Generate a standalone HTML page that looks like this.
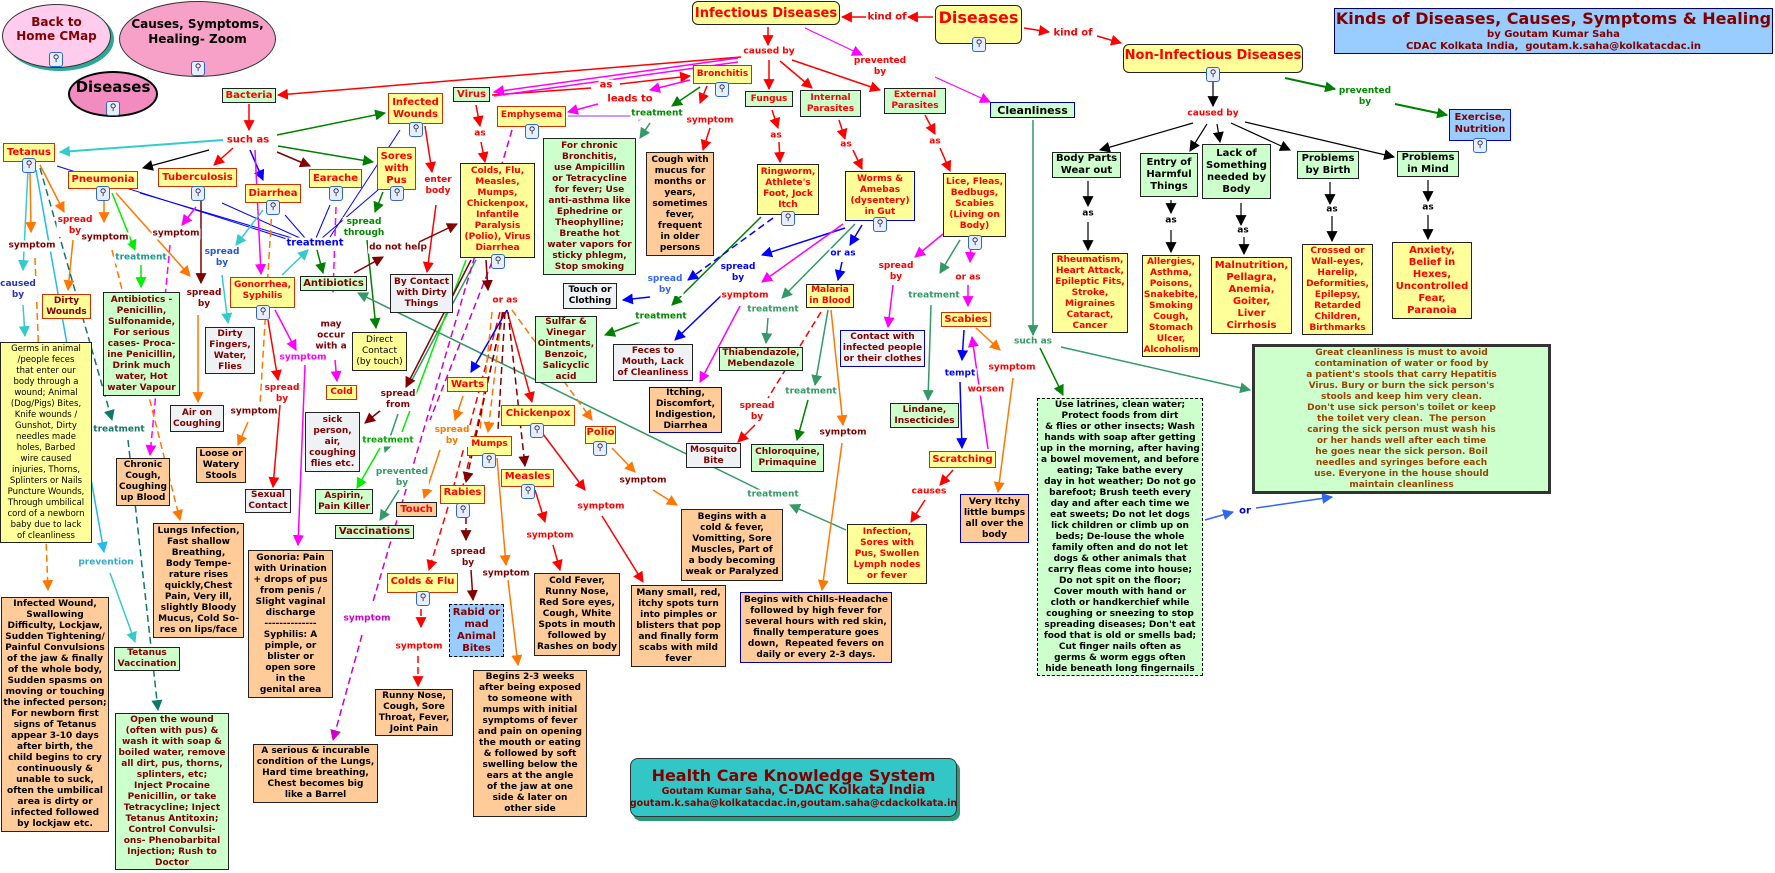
<!DOCTYPE html>
<html><head><meta charset="utf-8">
<style>
*{box-sizing:border-box;margin:0;padding:0}
body{width:1775px;height:873px;background:#fff;position:relative;overflow:hidden;font-family:"DejaVu Sans","Liberation Sans",sans-serif;font-weight:bold}
.n{position:absolute;display:flex;align-items:center;justify-content:center;text-align:center;font-size:9px;line-height:11px;border:1px solid #222;white-space:nowrap}
.g{background:#ccffcc}
.y{background:#ffff99}
.yr{background:#ffff99;border-color:#d03000}
.o{background:#ffcc99}
.gr{background:#eef2f4}
.rd{color:#ff0000}
.dr{color:#800000}
.bk{color:#000}
.t{font-size:10px;line-height:12px}
.e{position:absolute;border-radius:50%;display:flex;align-items:center;justify-content:center;text-align:center;padding-bottom:14px}
.l{position:absolute;transform:translate(-50%,-50%);background:#fff;font-size:9px;line-height:11px;text-align:center;white-space:nowrap;padding:0 1px}
.ic{position:absolute;width:14px;height:15px;border:1px solid #3366cc;border-radius:3px;background:#e6eeff;font-size:9px;line-height:13px;text-align:center;color:#223;font-weight:normal}
svg{position:absolute;left:0;top:0}
</style></head><body>
<svg width="1775" height="873">
<defs>
<marker id="r" viewBox="0 0 10 10" refX="9" refY="5" markerUnits="userSpaceOnUse" markerWidth="11" markerHeight="11" orient="auto"><path d="M0,0L10,5L0,10z" fill="#f00"/></marker>
<marker id="k" viewBox="0 0 10 10" refX="9" refY="5" markerUnits="userSpaceOnUse" markerWidth="11" markerHeight="11" orient="auto"><path d="M0,0L10,5L0,10z" fill="#000"/></marker>
<marker id="g" viewBox="0 0 10 10" refX="9" refY="5" markerUnits="userSpaceOnUse" markerWidth="11" markerHeight="11" orient="auto"><path d="M0,0L10,5L0,10z" fill="#008000"/></marker>
<marker id="sg" viewBox="0 0 10 10" refX="9" refY="5" markerUnits="userSpaceOnUse" markerWidth="11" markerHeight="11" orient="auto"><path d="M0,0L10,5L0,10z" fill="#339966"/></marker>
<marker id="lg" viewBox="0 0 10 10" refX="9" refY="5" markerUnits="userSpaceOnUse" markerWidth="11" markerHeight="11" orient="auto"><path d="M0,0L10,5L0,10z" fill="#00ee00"/></marker>
<marker id="b" viewBox="0 0 10 10" refX="9" refY="5" markerUnits="userSpaceOnUse" markerWidth="11" markerHeight="11" orient="auto"><path d="M0,0L10,5L0,10z" fill="#00f"/></marker>
<marker id="m" viewBox="0 0 10 10" refX="9" refY="5" markerUnits="userSpaceOnUse" markerWidth="11" markerHeight="11" orient="auto"><path d="M0,0L10,5L0,10z" fill="#f0f"/></marker>
<marker id="p" viewBox="0 0 10 10" refX="9" refY="5" markerUnits="userSpaceOnUse" markerWidth="11" markerHeight="11" orient="auto"><path d="M0,0L10,5L0,10z" fill="#c0c"/></marker>
<marker id="o" viewBox="0 0 10 10" refX="9" refY="5" markerUnits="userSpaceOnUse" markerWidth="11" markerHeight="11" orient="auto"><path d="M0,0L10,5L0,10z" fill="#f70"/></marker>
<marker id="br" viewBox="0 0 10 10" refX="9" refY="5" markerUnits="userSpaceOnUse" markerWidth="11" markerHeight="11" orient="auto"><path d="M0,0L10,5L0,10z" fill="#800000"/></marker>
<marker id="c" viewBox="0 0 10 10" refX="9" refY="5" markerUnits="userSpaceOnUse" markerWidth="11" markerHeight="11" orient="auto"><path d="M0,0L10,5L0,10z" fill="#33cccc"/></marker>
<marker id="lb" viewBox="0 0 10 10" refX="9" refY="5" markerUnits="userSpaceOnUse" markerWidth="11" markerHeight="11" orient="auto"><path d="M0,0L10,5L0,10z" fill="#22bbee"/></marker>
<marker id="lav" viewBox="0 0 10 10" refX="9" refY="5" markerUnits="userSpaceOnUse" markerWidth="11" markerHeight="11" orient="auto"><path d="M0,0L10,5L0,10z" fill="#cc99ff"/></marker>
<marker id="tb" viewBox="0 0 10 10" refX="9" refY="5" markerUnits="userSpaceOnUse" markerWidth="11" markerHeight="11" orient="auto"><path d="M0,0L10,5L0,10z" fill="#117766"/></marker>
<marker id="bl" viewBox="0 0 10 10" refX="9" refY="5" markerUnits="userSpaceOnUse" markerWidth="11" markerHeight="11" orient="auto"><path d="M0,0L10,5L0,10z" fill="#3366ee"/></marker>
</defs>
<g fill="none" stroke-width="1.5">
<!-- red -->
<g stroke="#f00">
<path d="M933,17L908,17" marker-end="url(#r)"/><path d="M866,17L842,17" marker-end="url(#r)"/>
<path d="M1024,28L1049,32" marker-end="url(#r)"/><path d="M1097,36L1121,43" marker-end="url(#r)"/>
<path d="M768,27L768,45" marker-end="url(#r)"/>
<path d="M741,57L278,95" marker-end="url(#r)"/>
<path d="M769,60L769,89" marker-end="url(#r)"/>
<path d="M780,61L812,88" marker-end="url(#r)"/>
<path d="M792,60L880,90" marker-end="url(#r)"/>
<path d="M492,95L591,88"/><path d="M620,84L690,76" marker-end="url(#r)"/>
<path d="M707,86L700,103" marker-end="url(#r)"/><path d="M710,128L703,150" marker-end="url(#r)"/>
<path d="M249,104L249,130" marker-end="url(#r)"/>
<path d="M233,148L214,165" marker-end="url(#r)"/>
<path d="M476,105L480,126" marker-end="url(#r)"/><path d="M481,142L485,162" marker-end="url(#r)"/>
<path d="M425,126L432,172" marker-end="url(#r)"/><path d="M436,205L427,272" marker-end="url(#r)"/>
<path d="M772,110L778,128" marker-end="url(#r)"/><path d="M779,142L780,162" marker-end="url(#r)"/>
<path d="M839,120L845,139" marker-end="url(#r)"/><path d="M853,150L862,169" marker-end="url(#r)"/>
<path d="M925,115L935,134" marker-end="url(#r)"/><path d="M940,148L950,171" marker-end="url(#r)"/>
<path d="M268,320L278,380" marker-end="url(#r)"/><path d="M280,405L273,487" marker-end="url(#r)"/>
<path d="M421,598L421,627" marker-end="url(#r)" stroke-dasharray="7,4"/><path d="M418,656L418,686" marker-end="url(#r)" stroke-dasharray="7,4"/>
<path d="M448,507L429,570" marker-end="url(#r)" stroke-dasharray="7,4"/>
<path d="M500,312L450,500" stroke-dasharray="7,4"/><path d="M504,312L462,490" stroke-dasharray="7,4"/>
<path d="M507,310L532,402" marker-end="url(#r)"/>
<path d="M540,430L585,490" marker-end="url(#r)"/><path d="M602,516L643,582" marker-end="url(#r)"/>
<path d="M535,490L545,522" marker-end="url(#r)"/><path d="M553,545L560,570" marker-end="url(#r)"/>
<path d="M821,312L768,398" stroke-dasharray="7,4"/><path d="M755,425L738,442" marker-end="url(#r)"/>
<path d="M953,470L940,485" marker-end="url(#r)"/><path d="M925,500L911,522" marker-end="url(#r)"/>
</g>
<!-- black -->
<g stroke="#000" stroke-width="1.2">
<path d="M1213,82L1213,106" marker-end="url(#k)"/>
<path d="M1193,123L1100,150" marker-end="url(#k)"/>
<path d="M1207,124L1190,151" marker-end="url(#k)"/>
<path d="M1217,124L1220,142" marker-end="url(#k)"/>
<path d="M1231,123L1290,150" marker-end="url(#k)"/>
<path d="M1245,122L1394,157" marker-end="url(#k)"/>
<path d="M1088,181L1088,206" marker-end="url(#k)"/><path d="M1088,222L1088,250" marker-end="url(#k)"/>
<path d="M1171,200L1171,213" marker-end="url(#k)"/><path d="M1171,230L1171,252" marker-end="url(#k)"/>
<path d="M1241,203L1241,225" marker-end="url(#k)"/><path d="M1244,237L1244,254" marker-end="url(#k)"/>
<path d="M1330,182L1330,204" marker-end="url(#k)"/><path d="M1332,216L1332,241" marker-end="url(#k)"/>
<path d="M1428,180L1428,201" marker-end="url(#k)"/><path d="M1428,215L1428,239" marker-end="url(#k)"/>
<path d="M209,150L143,168" marker-end="url(#k)"/>
</g>
<!-- greens -->
<g stroke="#008000">
<path d="M1285,78L1335,89" marker-end="url(#g)" stroke-width="2"/><path d="M1395,104L1447,115" marker-end="url(#g)" stroke-width="2"/>
<path d="M1040,348L1063,395" marker-end="url(#g)"/>
<path d="M277,135L385,113" marker-end="url(#g)"/>
<path d="M278,146L373,162" marker-end="url(#g)"/>
<path d="M700,87L672,106" marker-end="url(#g)"/>
<path d="M383,192L375,212" marker-end="url(#g)"/><path d="M367,240L376,328" marker-end="url(#g)"/>
<path d="M317,250L323,273" marker-end="url(#g)"/>
<path d="M761,217L672,305" marker-end="url(#g)"/><path d="M640,322L605,335" marker-end="url(#g)"/>
<path d="M808,400L797,440" marker-end="url(#g)"/>
</g>
<g stroke="#339966">
<path d="M1033,120L1033,335" marker-end="url(#sg)"/>
<path d="M1061,347L1250,390" marker-end="url(#sg)"/>
<path d="M650,123L640,138" marker-end="url(#sg)"/>
<path d="M855,224L782,298" marker-end="url(#sg)"/><path d="M768,318L766,343" marker-end="url(#sg)"/>
<path d="M828,310L815,385" marker-end="url(#sg)"/>
<path d="M960,240L940,273" marker-end="url(#sg)"/><path d="M931,305L928,400" marker-end="url(#sg)"/>
<path d="M846,530L790,505" marker-end="url(#sg)"/><path d="M760,490L358,293" marker-end="url(#sg)"/>
<path d="M476,260L412,380"/><path d="M398,414L385,452" marker-end="url(#sg)"/><path d="M399,490L380,520" marker-end="url(#sg)"/>
</g>
<g stroke="#00ee00">
<path d="M466,260L402,432"/><path d="M380,448L357,488" marker-end="url(#lg)"/>
<path d="M112,193L135,250" marker-end="url(#lg)"/><path d="M141,265L141,287" marker-end="url(#lg)"/>
</g>
<!-- blue -->
<g stroke="#00f">
<path d="M57,166L290,240" stroke-width="1"/><path d="M140,193L292,238" stroke-width="1"/>
<path d="M222,203L300,238" stroke-width="1"/><path d="M285,215L305,238" stroke-width="1"/>
<path d="M330,205L316,238" stroke-width="1"/><path d="M378,190L322,238" stroke-width="1"/>
<path d="M400,130L330,237" stroke-width="1"/><path d="M250,150L263,180" marker-end="url(#b)"/>
<path d="M773,218L688,280" stroke-dasharray="7,4" marker-end="url(#b)"/><path d="M650,297L623,300" marker-end="url(#b)"/>
<path d="M845,228L762,255" marker-end="url(#b)"/><path d="M725,292L675,340" marker-end="url(#b)"/>
<path d="M862,225L850,245" marker-end="url(#b)"/><path d="M842,262L838,280" marker-end="url(#b)"/>
<path d="M507,310L471,372" marker-end="url(#b)"/>
<path d="M964,330L962,360" marker-end="url(#b)"/><path d="M960,382L962,448" marker-end="url(#b)"/>
</g>
<g stroke="#3366ee"><path d="M1205,520L1233,512" marker-end="url(#bl)"/><path d="M1256,508L1332,497" marker-end="url(#bl)"/></g>
<!-- magenta -->
<g stroke="#f0f">
<path d="M690,80L650,90" marker-end="url(#m)"/><path d="M598,104L568,112" marker-end="url(#m)"/>
<path d="M738,58L494,92" marker-end="url(#m)"/><path d="M738,62L494,96"/>
<path d="M805,28L862,55" stroke-width="1.2" marker-end="url(#m)"/><path d="M935,77L990,102" stroke-width="1.2" marker-end="url(#m)"/>
<path d="M843,224L762,282" marker-end="url(#m)"/><path d="M740,306L700,382" marker-end="url(#m)"/>
<path d="M943,234L915,257" marker-end="url(#m)"/><path d="M893,285L888,327" marker-end="url(#m)"/>
<path d="M971,241L970,262" marker-end="url(#m)"/><path d="M968,285L968,306" marker-end="url(#m)"/>
<path d="M988,449L972,337" marker-end="url(#m)"/>
<path d="M255,150L261,274" marker-end="url(#m)"/>
<path d="M275,310L296,350" marker-end="url(#m)"/><path d="M305,365L298,545" marker-end="url(#m)"/>
<path d="M336,207L333,292" stroke-dasharray="7,4" marker-end="url(#m)"/><path d="M335,360L337,381" marker-end="url(#m)"/>
<path d="M196,207L182,225" marker-end="url(#m)"/><path d="M170,245L150,455" stroke-dasharray="7,4" marker-end="url(#m)"/>
</g>
<g stroke="#c0c"><path d="M512,130L372,605" stroke-dasharray="7,4"/><path d="M362,635L333,740" stroke-dasharray="7,4" marker-end="url(#p)"/>
<path d="M492,262L430,420" stroke-dasharray="7,4"/></g>
<path d="M568,116L648,116" stroke="#cc99ff" stroke-width="2" marker-end="url(#lav)"/>
<!-- orange -->
<g stroke="#f70">
<path d="M40,165L64,212" marker-end="url(#o)"/><path d="M73,240L68,290" marker-end="url(#o)"/>
<path d="M30,170L31,232" marker-end="url(#o)"/><path d="M35,258L48,590" stroke-dasharray="7,4" marker-end="url(#o)"/>
<path d="M104,193L104,222" marker-end="url(#o)"/><path d="M112,250L180,520" stroke-dasharray="7,4" marker-end="url(#o)"/>
<path d="M116,193L190,276" marker-end="url(#o)"/><path d="M198,315L198,402" marker-end="url(#o)"/>
<path d="M272,208L260,405" stroke-dasharray="7,4"/><path d="M248,422L238,445" marker-end="url(#o)"/>
<path d="M502,312L488,432" stroke-dasharray="7,4" marker-end="url(#o)"/>
<path d="M497,458L506,565" marker-end="url(#o)"/><path d="M508,580L518,665" marker-end="url(#o)"/>
<path d="M463,396L455,420" marker-end="url(#o)"/><path d="M440,450L424,498" marker-end="url(#o)"/>
<path d="M612,448L635,472" marker-end="url(#o)"/><path d="M653,490L677,505" marker-end="url(#o)"/>
<path d="M831,310L843,425" marker-end="url(#o)"/><path d="M842,443L822,590" marker-end="url(#o)"/>
<path d="M976,328L1000,350" marker-end="url(#o)"/><path d="M1013,378L998,492" marker-end="url(#o)"/>
<path d="M512,310L592,420" stroke-dasharray="7,4" marker-end="url(#o)"/>
<path d="M492,312L480,430" stroke-dasharray="7,4"/>
</g>
<!-- brown -->
<g stroke="#800000">
<path d="M277,152L310,166" marker-end="url(#br)"/>
<path d="M201,200L201,283" marker-end="url(#br)"/>
<path d="M486,260L488,290" marker-end="url(#br)"/>
<path d="M505,312L498,430" stroke-dasharray="7,4"/><path d="M508,312L525,466" stroke-dasharray="7,4" marker-end="url(#br)"/>
<path d="M503,312L466,482" stroke-dasharray="7,4" marker-end="url(#br)"/>
<path d="M354,273L383,257" marker-end="url(#br)"/><path d="M419,242L457,224" marker-end="url(#br)"/>
<path d="M471,260L406,387" marker-end="url(#br)"/><path d="M381,410L365,423" marker-end="url(#br)"/>
<path d="M466,508L466,540" stroke-dasharray="6,4" marker-end="url(#br)"/><path d="M471,570L473,600" marker-end="url(#br)"/>
</g>
<!-- cyan -->
<g stroke="#33cccc">
<path d="M223,140L60,152" marker-end="url(#c)" stroke-width="2"/>
<path d="M263,210L236,245" marker-end="url(#c)"/><path d="M222,275L228,323" marker-end="url(#c)"/>
<path d="M282,275L308,250" marker-end="url(#c)"/>
<path d="M28,170L23,270" marker-end="url(#c)"/><path d="M23,305L25,336" marker-end="url(#c)"/>
<path d="M110,573L135,642" marker-end="url(#c)"/>
</g>
<path d="M36,170L104,552" stroke="#22bbee" stroke-width="1.5" marker-end="url(#lb)"/>
<g stroke="#117766" stroke-dasharray="7,4"><path d="M40,168L112,420" marker-end="url(#tb)"/><path d="M128,440L158,710" marker-end="url(#tb)"/></g>
</g>
</svg>

<!-- ellipses -->
<div class="e" style="left:2px;top:4px;width:109px;height:64px;background:#ffccee;border:1px solid #333;box-shadow:3px 3px 0 #2aa89a;color:#800000;font-size:12px;line-height:14px">Back to<br>Home CMap</div>
<div class="e" style="left:119px;top:1px;width:157px;height:76px;background:#f7a1c9;border:1px solid #333;color:#000;font-size:12px;line-height:15px">Causes, Symptoms,<br>Healing- Zoom</div>
<div class="e" style="left:68px;top:71px;width:90px;height:46px;background:#f28cc0;border:2px solid #000;color:#000;font-size:15px">Diseases</div>

<!-- top -->
<div class="n y rd" style="left:692px;top:1px;width:148px;height:24px;border-radius:6px;font-size:13px">Infectious Diseases</div>
<div class="n y rd" style="left:935px;top:5px;width:87px;height:39px;border-radius:6px;font-size:16px;align-items:flex-start;padding-top:6px">Diseases</div>
<div class="n y rd" style="left:1123px;top:44px;width:180px;height:29px;border-radius:6px;font-size:13px;align-items:flex-start;padding-top:5px">Non-Infectious Diseases</div>
<div class="n" style="left:1334px;top:8px;width:439px;height:46px;background:#99ccff;border-color:#000066;color:#800000;flex-direction:column;font-size:10px;line-height:12px"><span style="font-size:16px;line-height:20px">Kinds of Diseases, Causes, Symptoms &amp; Healing</span>by Goutam Kumar Saha<br>CDAC Kolkata India,&nbsp; goutam.k.saha@kolkatacdac.in</div>

<!-- left cluster -->
<div class="n g rd t" style="left:222px;top:88px;width:54px;height:15px">Bacteria</div>
<div class="n yr rd t" style="left:3px;top:143px;width:52px;height:19px">Tetanus</div>
<div class="n yr rd t" style="left:68px;top:171px;width:70px;height:18px">Pneumonia</div>
<div class="n yr rd t" style="left:158px;top:168px;width:79px;height:19px">Tuberculosis</div>
<div class="n yr rd t" style="left:245px;top:184px;width:56px;height:19px">Diarrhea</div>
<div class="n yr rd t" style="left:309px;top:169px;width:53px;height:19px">Earache</div>
<div class="n yr rd t" style="left:388px;top:93px;width:55px;height:31px">Infected<br>Wounds</div>
<div class="n yr rd t" style="left:377px;top:147px;width:39px;height:43px">Sores<br>with<br>Pus</div>
<div class="n g rd t" style="left:453px;top:87px;width:37px;height:15px">Virus</div>
<div class="n yr rd" style="left:497px;top:106px;width:69px;height:21px;align-items:flex-start;padding-top:3px">Emphysema</div>
<div class="n y rd" style="left:460px;top:163px;width:75px;height:95px;align-items:flex-start;padding-top:2px">Colds, Flu,<br>Measles,<br>Mumps,<br>Chickenpox,<br>Infantile<br>Paralysis<br>(Polio), Virus<br>Diarrhea</div>
<div class="n g dr" style="left:543px;top:138px;width:93px;height:137px">For chronic<br>Bronchitis,<br>use Ampicillin<br>or Tetracycline<br>for fever; Use<br>anti-asthma like<br>Ephedrine or<br>Theophylline;<br>Breathe hot<br>water vapors for<br>sticky phlegm,<br>Stop smoking</div>
<div class="n yr rd" style="left:693px;top:65px;width:59px;height:19px">Bronchitis</div>
<div class="n o bk" style="left:646px;top:152px;width:68px;height:104px">Cough with<br>mucus for<br>months or<br>years,<br>sometimes<br>fever,<br>frequent<br>in older<br>persons</div>
<div class="n g rd" style="left:745px;top:91px;width:48px;height:16px">Fungus</div>
<div class="n g rd" style="left:800px;top:90px;width:61px;height:27px">Internal<br>Parasites</div>
<div class="n g rd" style="left:884px;top:88px;width:62px;height:26px">External<br>Parasites</div>
<div class="n g bk" style="left:990px;top:102px;width:85px;height:16px;border-color:#0000aa;font-size:11px">Cleanliness</div>
<div class="n y rd" style="left:757px;top:164px;width:62px;height:51px;align-items:flex-start;padding-top:2px">Ringworm,<br>Athlete's<br>Foot, Jock<br>Itch</div>
<div class="n y rd" style="left:845px;top:171px;width:70px;height:50px;border-color:#0000cc;align-items:flex-start;padding-top:2px">Worms &amp;<br>Amebas<br>(dysentery)<br>in Gut</div>
<div class="n y rd" style="left:943px;top:173px;width:63px;height:64px;align-items:flex-start;padding-top:3px">Lice, Fleas,<br>Bedbugs,<br>Scabies<br>(Living on<br>Body)</div>

<!-- right -->
<div class="n g bk t" style="left:1052px;top:152px;width:69px;height:26px">Body Parts<br>Wear out</div>
<div class="n g bk t" style="left:1140px;top:153px;width:58px;height:44px">Entry of<br>Harmful<br>Things</div>
<div class="n g bk t" style="left:1202px;top:144px;width:69px;height:55px">Lack of<br>Something<br>needed by<br>Body</div>
<div class="n g bk t" style="left:1297px;top:151px;width:62px;height:28px">Problems<br>by Birth</div>
<div class="n g bk t" style="left:1397px;top:151px;width:62px;height:26px">Problems<br>in Mind</div>
<div class="n dr t" style="left:1449px;top:109px;width:62px;height:32px;background:#99ccff;border-color:#0000cc;align-items:flex-start;padding-top:2px">Exercise,<br>Nutrition</div>
<div class="n y rd" style="left:1052px;top:253px;width:76px;height:80px">Rheumatism,<br>Heart Attack,<br>Epileptic Fits,<br>Stroke,<br>Migraines<br>Cataract,<br>Cancer</div>
<div class="n y rd" style="left:1142px;top:255px;width:58px;height:102px">Allergies,<br>Asthma,<br>Poisons,<br>Snakebite,<br>Smoking<br>Cough,<br>Stomach<br>Ulcer,<br>Alcoholism</div>
<div class="n y rd t" style="left:1211px;top:257px;width:81px;height:77px">Malnutrition,<br>Pellagra,<br>Anemia,<br>Goiter,<br>Liver<br>Cirrhosis</div>
<div class="n y rd" style="left:1302px;top:244px;width:71px;height:91px">Crossed or<br>Wall-eyes,<br>Harelip,<br>Deformities,<br>Epilepsy,<br>Retarded<br>Children,<br>Birthmarks</div>
<div class="n y rd t" style="left:1392px;top:242px;width:80px;height:77px">Anxiety,<br>Belief in<br>Hexes,<br>Uncontrolled<br>Fear,<br>Paranoia</div>
<div class="n g" style="left:1252px;top:344px;width:299px;height:150px;border:3px solid #333;color:#994400">Great cleanliness is must to avoid<br>contamination of water or food by<br>a patient's stools that carry Hepatitis<br>Virus. Bury or burn the sick person's<br>stools and keep him very clean.<br>Don't use sick person's toilet or keep<br>the toilet very clean.&nbsp; The person<br>caring the sick person must wash his<br>or her hands well after each time<br>he goes near the sick person. Boil<br>needles and syringes before each<br>use. Everyone in the house should<br>maintain cleanliness</div>
<div class="n g bk" style="left:1037px;top:398px;width:166px;height:278px;border:1px dashed #000">Use latrines, clean water;<br>Protect foods from dirt<br>&amp; flies or other insects; Wash<br>hands with soap after getting<br>up in the morning, after having<br>a bowel movement, and before<br>eating; Take bathe every<br>day in hot weather; Do not go<br>barefoot; Brush teeth every<br>day and after each time we<br>eat sweets; Do not let dogs<br>lick children or climb up on<br>beds; De-louse the whole<br>family often and do not let<br>dogs &amp; other animals that<br>carry fleas come into house;<br>Do not spit on the floor;<br>Cover mouth with hand or<br>cloth or handkerchief while<br>coughing or sneezing to stop<br>spreading diseases; Don't eat<br>food that is old or smells bad;<br>Cut finger nails often as<br>germs &amp; worm eggs often<br>hide beneath long fingernails</div>

<!-- mid -->
<div class="n g dr t" style="left:300px;top:276px;width:67px;height:15px">Antibiotics</div>
<div class="n gr dr" style="left:390px;top:274px;width:63px;height:39px">By Contact<br>with Dirty<br>Things</div>
<div class="n gr bk" style="left:563px;top:283px;width:54px;height:26px">Touch or<br>Clothing</div>
<div class="n yr dr" style="left:42px;top:294px;width:49px;height:25px">Dirty<br>Wounds</div>
<div class="n g dr" style="left:103px;top:292px;width:77px;height:104px">Antibiotics -<br>Penicillin,<br>Sulfonamide,<br>For serious<br>cases- Proca-<br>ine Penicillin,<br>Drink much<br>water, Hot<br>water Vapour</div>
<div class="n yr rd" style="left:230px;top:277px;width:65px;height:31px;align-items:flex-start;padding-top:2px">Gonorrhea,<br>Syphilis</div>
<div class="n gr dr" style="left:205px;top:327px;width:50px;height:47px">Dirty<br>Fingers,<br>Water,<br>Flies</div>
<div class="n y bk" style="left:352px;top:332px;width:55px;height:39px;font-weight:normal">Direct<br>Contact<br>(by touch)</div>
<div class="n yr rd" style="left:326px;top:385px;width:31px;height:15px">Cold</div>
<div class="n gr dr" style="left:170px;top:405px;width:54px;height:27px">Air on<br>Coughing</div>
<div class="n gr dr" style="left:305px;top:412px;width:55px;height:60px">sick<br>person,<br>air,<br>coughing<br>flies etc.</div>
<div class="n y bk" style="left:0px;top:342px;width:92px;height:201px;font-weight:normal;font-size:8.5px">Germs in animal<br>/people feces<br>that enter our<br>body through a<br>wound; Animal<br>(Dog/Pigs) Bites,<br>Knife wounds /<br>Gunshot, Dirty<br>needles made<br>holes, Barbed<br>wire caused<br>injuries, Thorns,<br>Splinters or Nails<br>Puncture Wounds,<br>Through umbilical<br>cord of a newborn<br>baby due to lack<br>of cleanliness</div>
<div class="n g dr" style="left:535px;top:316px;width:62px;height:67px">Sulfar &amp;<br>Vinegar<br>Ointments,<br>Benzoic,<br>Salicyclic<br>acid</div>
<div class="n gr dr" style="left:613px;top:344px;width:80px;height:37px">Feces to<br>Mouth, Lack<br>of Cleanliness</div>
<div class="n o bk" style="left:649px;top:387px;width:73px;height:46px;border-color:#0000aa">Itching,<br>Discomfort,<br>Indigestion,<br>Diarrhea</div>
<div class="n y rd" style="left:806px;top:284px;width:48px;height:24px">Malaria<br>in Blood</div>
<div class="n g dr" style="left:719px;top:347px;width:84px;height:24px">Thiabendazole,<br>Mebendazole</div>
<div class="n dr" style="left:840px;top:330px;width:85px;height:37px;background:#eef3f8;border-color:#0000aa">Contact with<br>infected people<br>or their clothes</div>
<div class="n yr rd t" style="left:941px;top:312px;width:50px;height:15px">Scabies</div>
<div class="n g dr" style="left:890px;top:403px;width:69px;height:25px">Lindane,<br>Insecticides</div>
<div class="n yr rd t" style="left:447px;top:377px;width:41px;height:15px">Warts</div>
<div class="n yr rd t" style="left:501px;top:405px;width:74px;height:21px;align-items:flex-start;padding-top:2px">Chickenpox</div>
<div class="n yr rd t" style="left:585px;top:426px;width:31px;height:18px;align-items:flex-start">Polio</div>
<div class="n yr rd" style="left:467px;top:436px;width:45px;height:20px;align-items:flex-start;padding-top:2px">Mumps</div>
<div class="n yr rd t" style="left:501px;top:469px;width:53px;height:18px;align-items:flex-start;padding-top:1px">Measles</div>
<div class="n yr rd t" style="left:440px;top:485px;width:45px;height:19px;align-items:flex-start;padding-top:1px">Rabies</div>
<div class="n o rd t" style="left:396px;top:502px;width:41px;height:15px">Touch</div>
<div class="n g dr t" style="left:335px;top:525px;width:79px;height:14px">Vaccinations</div>
<div class="n g dr" style="left:315px;top:489px;width:58px;height:25px">Aspirin,<br>Pain Killer</div>
<div class="n gr dr" style="left:245px;top:489px;width:46px;height:24px">Sexual<br>Contact</div>
<div class="n o bk" style="left:196px;top:447px;width:50px;height:36px">Loose or<br>Watery<br>Stools</div>
<div class="n o bk" style="left:116px;top:458px;width:54px;height:48px">Chronic<br>Cough,<br>Coughing<br>up Blood</div>
<div class="n o bk" style="left:153px;top:523px;width:91px;height:115px">Lungs Infection,<br>Fast shallow<br>Breathing,<br>Body Tempe-<br>rature rises<br>quickly,Chest<br>Pain, Very ill,<br>slightly Bloody<br>Mucus, Cold So-<br>res on lips/face</div>
<div class="n o bk" style="left:248px;top:550px;width:85px;height:148px">Gonoria: Pain<br>with Urination<br>+ drops of pus<br>from penis /<br>Slight vaginal<br>discharge<br>--------------<br>Syphilis: A<br>pimple, or<br>blister or<br>open sore<br>in the<br>genital area</div>
<div class="n o bk" style="left:1px;top:597px;width:108px;height:235px">Infected Wound,<br>Swallowing<br>Difficulty, Lockjaw,<br>Sudden Tightening/<br>Painful Convulsions<br>of the jaw &amp; finally<br>of the whole body,<br>Sudden spasms on<br>moving or touching<br>the infected person;<br>For newborn first<br>signs of Tetanus<br>appear 3-10 days<br>after birth, the<br>child begins to cry<br>continuously &amp;<br>unable to suck,<br>often the umbilical<br>area is dirty or<br>infected followed<br>by lockjaw etc.</div>
<div class="n g dr" style="left:114px;top:647px;width:66px;height:24px">Tetanus<br>Vaccination</div>
<div class="n g dr" style="left:115px;top:713px;width:114px;height:157px">Open the wound<br>(often with pus) &amp;<br>wash it with soap &amp;<br>boiled water, remove<br>all dirt, pus, thorns,<br>splinters, etc;<br>Inject Procaine<br>Penicillin, or take<br>Tetracycline; Inject<br>Tetanus Antitoxin;<br>Control Convulsi-<br>ons- Phenobarbital<br>Injection; Rush to<br>Doctor</div>
<div class="n o bk" style="left:253px;top:744px;width:125px;height:59px">A serious &amp; incurable<br>condition of the Lungs,<br>Hard time breathing,<br>Chest becomes big<br>like a Barrel</div>
<div class="n yr rd t" style="left:387px;top:573px;width:71px;height:20px;align-items:flex-start;padding-top:2px">Colds &amp; Flu</div>
<div class="n dr t" style="left:449px;top:604px;width:55px;height:53px;background:#99ccff;border:1px dashed #000">Rabid or<br>mad<br>Animal<br>Bites</div>
<div class="n o bk" style="left:375px;top:689px;width:78px;height:47px">Runny Nose,<br>Cough, Sore<br>Throat, Fever,<br>Joint Pain</div>
<div class="n o bk" style="left:473px;top:670px;width:114px;height:147px">Begins 2-3 weeks<br>after being exposed<br>to someone with<br>mumps with initial<br>symptoms of fever<br>and pain on opening<br>the mouth or eating<br>&amp; followed by soft<br>swelling below the<br>ears at the angle<br>of the jaw at one<br>side &amp; later on<br>other side</div>
<div class="n o bk" style="left:534px;top:573px;width:86px;height:83px">Cold Fever,<br>Runny Nose,<br>Red Sore eyes,<br>Cough, White<br>Spots in mouth<br>followed by<br>Rashes on body</div>
<div class="n gr dr" style="left:686px;top:443px;width:55px;height:25px">Mosquito<br>Bite</div>
<div class="n g dr" style="left:751px;top:444px;width:73px;height:28px">Chloroquine,<br>Primaquine</div>
<div class="n yr rd t" style="left:929px;top:451px;width:67px;height:17px">Scratching</div>
<div class="n o bk" style="left:960px;top:494px;width:69px;height:49px;border-color:#0000aa">Very Itchy<br>little bumps<br>all over the<br>body</div>
<div class="n o bk" style="left:681px;top:509px;width:102px;height:72px">Begins with a<br>cold &amp; fever,<br>Vomitting, Sore<br>Muscles, Part of<br>a body becoming<br>weak or Paralyzed</div>
<div class="n o bk" style="left:631px;top:585px;width:95px;height:82px">Many small, red,<br>itchy spots turn<br>into pimples or<br>blisters that pop<br>and finally form<br>scabs with mild<br>fever</div>
<div class="n o bk" style="left:740px;top:592px;width:152px;height:71px;border-color:#0000aa">Begins with Chills-Headache<br>followed by high fever for<br>several hours with red skin,<br>finally temperature goes<br>down,&nbsp; Repeated fevers on<br>daily or every 2-3 days.</div>
<div class="n y rd" style="left:847px;top:524px;width:80px;height:60px">Infection,<br>Sores with<br>Pus, Swollen<br>Lymph nodes<br>or fever</div>
<div class="n" style="left:630px;top:758px;width:327px;height:59px;background:#33c6c6;border-radius:8px;border-color:#333;box-shadow:3px 4px 0 #2a9a7a;flex-direction:column;color:#800000;font-size:9.5px;line-height:12px"><span style="font-size:16px;line-height:19px">Health Care Knowledge System</span><span>Goutam Kumar Saha, <span style="font-size:13px">C-DAC Kolkata India</span></span><span>goutam.k.saha@kolkatacdac.in,goutam.saha@cdackolkata.in</span></div>

<!-- labels -->
<div class="l" style="left:887px;top:17px;color:#f00;font-size:10px">kind of</div>
<div class="l" style="left:1073px;top:33px;color:#f00;font-size:10px">kind of</div>
<div class="l" style="left:769px;top:52px;color:#f00">caused by</div>
<div class="l" style="left:880px;top:67px;color:#f00">prevented<br>by</div>
<div class="l" style="left:1213px;top:114px;color:#f00">caused by</div>
<div class="l" style="left:1365px;top:97px;color:#080">prevented<br>by</div>
<div class="l" style="left:606px;top:85px;color:#f00;font-size:10px">as</div>
<div class="l" style="left:630px;top:99px;color:#f00;font-size:10px">leads to</div>
<div class="l" style="left:657px;top:114px;color:#080">treatment</div>
<div class="l" style="left:710px;top:121px;color:#f00">symptom</div>
<div class="l" style="left:248px;top:140px;color:#f00;font-size:10px">such as</div>
<div class="l" style="left:480px;top:134px;color:#f00">as</div>
<div class="l" style="left:438px;top:186px;color:#f00">enter<br>body</div>
<div class="l" style="left:776px;top:136px;color:#f00">as</div>
<div class="l" style="left:846px;top:145px;color:#f00">as</div>
<div class="l" style="left:935px;top:142px;color:#f00">as</div>
<div class="l" style="left:1088px;top:214px;color:#000">as</div>
<div class="l" style="left:1171px;top:221px;color:#000">as</div>
<div class="l" style="left:1243px;top:231px;color:#000">as</div>
<div class="l" style="left:1332px;top:210px;color:#000">as</div>
<div class="l" style="left:1428px;top:208px;color:#000">as</div>
<div class="l" style="left:315px;top:243px;color:#00f;font-size:10px">treatment</div>
<div class="l" style="left:364px;top:228px;color:#080">spread<br>through</div>
<div class="l" style="left:398px;top:248px;color:#800000">do not help</div>
<div class="l" style="left:505px;top:301px;color:#f00">or as</div>
<div class="l" style="left:75px;top:226px;color:#f00">spread<br>by</div>
<div class="l" style="left:32px;top:246px;color:#800000">symptom</div>
<div class="l" style="left:105px;top:238px;color:#800000">symptom</div>
<div class="l" style="left:176px;top:234px;color:#800000">symptom</div>
<div class="l" style="left:141px;top:258px;color:#1a9a8a">treatment</div>
<div class="l" style="left:222px;top:258px;color:#2255dd">spread<br>by</div>
<div class="l" style="left:18px;top:290px;color:#2233cc">caused<br>by</div>
<div class="l" style="left:204px;top:299px;color:#800000">spread<br>by</div>
<div class="l" style="left:331px;top:336px;color:#800000">may<br>occur<br>with a</div>
<div class="l" style="left:303px;top:358px;color:#f0f">symptom</div>
<div class="l" style="left:282px;top:394px;color:#f00">spread<br>by</div>
<div class="l" style="left:254px;top:412px;color:#800000">symptom</div>
<div class="l" style="left:398px;top:400px;color:#800000">spread<br>from</div>
<div class="l" style="left:119px;top:430px;color:#117766">treatment</div>
<div class="l" style="left:388px;top:441px;color:#0a0">treatment</div>
<div class="l" style="left:402px;top:478px;color:#339966">prevented<br>by</div>
<div class="l" style="left:452px;top:436px;color:#f70">spread<br>by</div>
<div class="l" style="left:468px;top:558px;color:#800000">spread<br>by</div>
<div class="l" style="left:106px;top:563px;color:#33aacc">prevention</div>
<div class="l" style="left:367px;top:619px;color:#c0c">symptom</div>
<div class="l" style="left:419px;top:647px;color:#f00">symptom</div>
<div class="l" style="left:506px;top:574px;color:#800000">symptom</div>
<div class="l" style="left:550px;top:536px;color:#f00">symptom</div>
<div class="l" style="left:601px;top:507px;color:#f00">symptom</div>
<div class="l" style="left:643px;top:481px;color:#800000">symptom</div>
<div class="l" style="left:665px;top:285px;color:#36f">spread<br>by</div>
<div class="l" style="left:661px;top:317px;color:#080">treatment</div>
<div class="l" style="left:738px;top:273px;color:#00f">spread<br>by</div>
<div class="l" style="left:745px;top:296px;color:#f00">symptom</div>
<div class="l" style="left:773px;top:310px;color:#339966">treatment</div>
<div class="l" style="left:843px;top:254px;color:#00f">or as</div>
<div class="l" style="left:896px;top:272px;color:#f00">spread<br>by</div>
<div class="l" style="left:934px;top:296px;color:#339966">treatment</div>
<div class="l" style="left:968px;top:278px;color:#f00">or as</div>
<div class="l" style="left:757px;top:412px;color:#f00">spread<br>by</div>
<div class="l" style="left:811px;top:392px;color:#339966">treatment</div>
<div class="l" style="left:843px;top:433px;color:#800000">symptom</div>
<div class="l" style="left:960px;top:374px;color:#00f">tempt</div>
<div class="l" style="left:986px;top:390px;color:#f00">worsen</div>
<div class="l" style="left:1012px;top:368px;color:#f00">symptom</div>
<div class="l" style="left:929px;top:492px;color:#f00">causes</div>
<div class="l" style="left:773px;top:495px;color:#339966">treatment</div>
<div class="l" style="left:1033px;top:342px;color:#339966">such as</div>
<div class="l" style="left:1245px;top:511px;color:#00c;font-size:10px">or</div>

<!-- icons -->
<div class="ic" style="left:49px;top:52px">⚲</div>
<div class="ic" style="left:191px;top:61px">⚲</div>
<div class="ic" style="left:106px;top:101px">⚲</div>
<div class="ic" style="left:972px;top:37px">⚲</div>
<div class="ic" style="left:1206px;top:67px">⚲</div>
<div class="ic" style="left:22px;top:158px">⚲</div>
<div class="ic" style="left:96px;top:186px">⚲</div>
<div class="ic" style="left:191px;top:186px">⚲</div>
<div class="ic" style="left:266px;top:200px">⚲</div>
<div class="ic" style="left:329px;top:186px">⚲</div>
<div class="ic" style="left:409px;top:122px">⚲</div>
<div class="ic" style="left:390px;top:186px">⚲</div>
<div class="ic" style="left:525px;top:124px">⚲</div>
<div class="ic" style="left:491px;top:254px">⚲</div>
<div class="ic" style="left:715px;top:82px">⚲</div>
<div class="ic" style="left:781px;top:211px">⚲</div>
<div class="ic" style="left:873px;top:217px">⚲</div>
<div class="ic" style="left:968px;top:235px">⚲</div>
<div class="ic" style="left:256px;top:305px">⚲</div>
<div class="ic" style="left:1473px;top:138px">⚲</div>
<div class="ic" style="left:530px;top:423px">⚲</div>
<div class="ic" style="left:593px;top:441px">⚲</div>
<div class="ic" style="left:482px;top:453px">⚲</div>
<div class="ic" style="left:521px;top:484px">⚲</div>
<div class="ic" style="left:456px;top:503px">⚲</div>
<div class="ic" style="left:416px;top:591px">⚲</div>
</body></html>
